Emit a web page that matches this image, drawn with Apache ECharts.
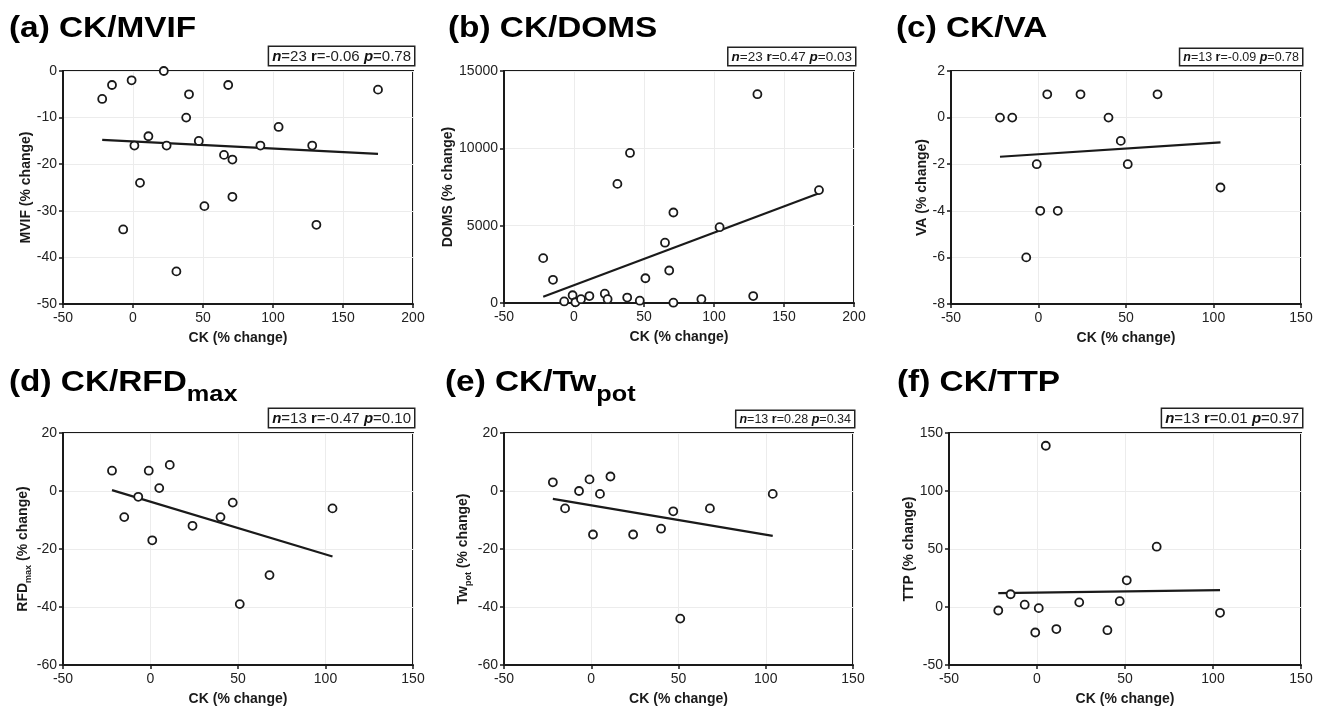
<!DOCTYPE html>
<html>
<head>
<meta charset="utf-8">
<script src="https://cdn.jsdelivr.net/npm/echarts@6/dist/echarts.min.js"></script>
<style>
  html, body { margin: 0; padding: 0; background: #fff; }
  #drew { width: 1321px; height: 710px; }
</style>
</head>
<body>
<div id="drew"></div>
<script>
// CK (% change) for all 23 subjects, panels a and b
var ck23 = [-22, -15, -7, -1, 1, 5, 11, 22, 24, 31, 38, 40, 47, 51, 65, 68, 71, 71, 91, 104, 128, 131, 175];
var mvif = [-6, -3, -34, -2, -16, -24, -14, 0, -16, -43, -10, -5, -15, -29, -18, -3, -19, -27, -16, -12, -16, -33, -4];
var doms = [2900, 1500, 100, 500, 50, 250, 450, 600, 250, 7700, 350, 9700, 150, 1600, 3900, 2100, 5850, 20, 250, 4900, 450, 13500, 7300];

// CK (% change) for the 13 subject subset, panels c to f
var ck13 = [-22, -15, -7, -1, 1, 5, 11, 24, 40, 47, 51, 68, 104];
var va = [0, 0, -6, -2, -4, 1, -4, 1, 0, -1, -2, 1, -3];
var rfdMax = [7, -9, -2, 7, -17, 1, 9, -12, -9, -4, -39, -29, -6];
var twPot = [3, -6, 0, 4, -15, -1, 5, -15, -13, -7, -44, -6, -1];
var ttp = [-3, 11, 2, -22, -1, 139, -19, 4, -20, 5, 23, 52, -5];

// regression lines as drawn: [x0, y0, x1, y1]
var fitMvif = [-22, -14.8, 175, -17.8];
var fitDoms = [-22, 400, 175, 7100];
var fitVa = [-22, -1.68, 104, -1.06];
var fitRfd = [-22, 0.3, 104, -22.6];
var fitTw = [-22, -2.7, 104, -15.5];
var fitTtp = [-22, 12, 104, 14.5];

// n, r, p shown in the boxes
var statsMvif = ['23', '-0.06', '0.78'];
var statsDoms = ['23', '0.47', '0.03'];
var statsVa = ['13', '-0.09', '0.78'];
var statsRfd = ['13', '-0.47', '0.10'];
var statsTw = ['13', '0.28', '0.34'];
var statsTtp = ['13', '0.01', '0.97'];

// axis ranges: [min, max, interval]
var xRange23 = [-50, 200, 50];
var xRange13 = [-50, 150, 50];
var yMvif = [-50, 0, 10];
var yDoms = [0, 15000, 5000];
var yVa = [-8, 2, 2];
var yRfd = [-60, 20, 20];
var yTw = [-60, 20, 20];
var yTtp = [-50, 150, 50];

var panels = [
  { title: '(a) CK/MVIF', yName: 'MVIF (% change)', x: ck23, y: mvif, fit: fitMvif, stats: statsMvif, xr: xRange23, yr: yMvif },
  { title: '(b) CK/DOMS', yName: 'DOMS (% change)', x: ck23, y: doms, fit: fitDoms, stats: statsDoms, xr: xRange23, yr: yDoms },
  { title: '(c) CK/VA', yName: 'VA (% change)', x: ck13, y: va, fit: fitVa, stats: statsVa, xr: xRange13, yr: yVa },
  { title: '(d) CK/RFD{s|max}', yName: 'RFD{s|max} (% change)', x: ck13, y: rfdMax, fit: fitRfd, stats: statsRfd, xr: xRange13, yr: yRfd },
  { title: '(e) CK/Tw{s|pot}', yName: 'Tw{s|pot} (% change)', x: ck13, y: twPot, fit: fitTw, stats: statsTw, xr: xRange13, yr: yTw },
  { title: '(f) CK/TTP', yName: 'TTP (% change)', x: ck13, y: ttp, fit: fitTtp, stats: statsTtp, xr: xRange13, yr: yTtp }
];

// placement of each panel
var layout = [
  { left: 63, top: 71, width: 350, height: 233, gap: 28, statSize: 15, tx: 9, ty: 29 },
  { left: 504, top: 71, width: 350, height: 232, gap: 48, statSize: 13.5, tx: 448, ty: 29 },
  { left: 951, top: 71, width: 350, height: 233, gap: 21, statSize: 12.5, tx: 896, ty: 29 },
  { left: 63, top: 433, width: 350, height: 232, gap: 30, statSize: 15, tx: 9, ty: 383 },
  { left: 504, top: 433, width: 349, height: 232, gap: 31, statSize: 12.5, tx: 445, ty: 383 },
  { left: 949, top: 433, width: 352, height: 232, gap: 31, statSize: 15, tx: 897, ty: 383 }
];

var ink = '#1a1a1a';
var font = '"Liberation Sans", Arial, Helvetica, sans-serif';
var plain = function (v) { return String(v); };

var grids = [], xAxes = [], yAxes = [], series = [], graphics = [];

panels.forEach(function (p, i) {
  var L = layout[i];
  grids.push({
    left: L.left, top: L.top, width: L.width, height: L.height,
    show: true, borderColor: ink, borderWidth: 2, backgroundColor: 'transparent'
  });
  xAxes.push({
    type: 'value', gridIndex: i, min: p.xr[0], max: p.xr[1], interval: p.xr[2],
    name: 'CK (% change)', nameLocation: 'middle', nameGap: 27,
    nameTextStyle: { fontWeight: 'bold', fontSize: 14, color: ink, fontFamily: font },
    axisLine: { show: true, onZero: false, lineStyle: { color: ink, width: 2 } },
    axisTick: { show: true, length: 4, lineStyle: { color: ink, width: 1.5 } },
    axisLabel: { fontSize: 14, color: '#222', margin: 7, fontFamily: font, formatter: plain },
    splitLine: { show: true, lineStyle: { color: '#ececec', width: 1 } }
  });
  yAxes.push({
    type: 'value', gridIndex: i, min: p.yr[0], max: p.yr[1], interval: p.yr[2],
    name: p.yName, nameLocation: 'middle', nameGap: L.gap,
    nameTextStyle: {
      fontWeight: 'bold', fontSize: 14, color: ink, fontFamily: font,
      rich: { s: { fontSize: 9, fontWeight: 'bold', color: ink, fontFamily: font, padding: [11, 0, 0, 0] } }
    },
    axisLine: { show: true, onZero: false, lineStyle: { color: ink, width: 2 } },
    axisTick: { show: true, length: 4, lineStyle: { color: ink, width: 1.5 } },
    axisLabel: { fontSize: 14, color: '#222', margin: 6, fontFamily: font, formatter: plain },
    splitLine: { show: true, lineStyle: { color: '#ececec', width: 1 } }
  });
  series.push({
    type: 'line', xAxisIndex: i, yAxisIndex: i,
    data: [[p.fit[0], p.fit[1]], [p.fit[2], p.fit[3]]],
    symbol: 'none', silent: true, z: 2,
    lineStyle: { color: ink, width: 2.2 }
  });
  series.push({
    type: 'scatter', xAxisIndex: i, yAxisIndex: i, clip: false, z: 3,
    data: p.x.map(function (v, k) { return [v, p.y[k]]; }),
    symbol: 'circle', symbolSize: 8,
    itemStyle: { color: '#fff', borderColor: ink, borderWidth: 1.8, opacity: 1 }
  });

  // panel heading
  graphics.push({
    type: 'text', x: L.tx, y: L.ty, scaleX: 1.15,
    style: {
      x: 0, y: 0, text: p.title, fill: '#000',
      font: 'bold 29px ' + font, verticalAlign: 'middle', align: 'left',
      rich: { s: { fontSize: 22, fontWeight: 'bold', fontFamily: font, fill: '#000', padding: [23, 0, 0, 0] } }
    }
  });

  // n / r / p box
  var st = p.stats;
  graphics.push({
    type: 'text', x: L.left + L.width + 1, y: L.top - 6,
    style: {
      x: 0, y: 0,
      text: '{i|n}{t|=' + st[0] + ' }{b|r}{t|=' + st[1] + ' }{i|p}{t|=' + st[2] + '}',
      align: 'right', verticalAlign: 'bottom',
      backgroundColor: '#fff', borderColor: '#222', borderWidth: 1.5,
      padding: [2, 3, 1, 3],
      rich: {
        i: { fontStyle: 'italic', fontWeight: 'bold', fontSize: L.statSize, fontFamily: font, fill: '#111' },
        b: { fontWeight: 'bold', fontSize: L.statSize, fontFamily: font, fill: '#111' },
        t: { fontSize: L.statSize, fontFamily: font, fill: '#222' }
      }
    }
  });
});

var myChart = echarts.init(document.getElementById('drew'));
var option = {
  backgroundColor: '#fff',
  animation: false,
  textStyle: { fontFamily: font },
  grid: grids,
  xAxis: xAxes,
  yAxis: yAxes,
  series: series,
  graphic: graphics
};
myChart.setOption(option);
window.addEventListener('resize', function () {
  myChart.resize();
});
</script>
</body>
</html>
